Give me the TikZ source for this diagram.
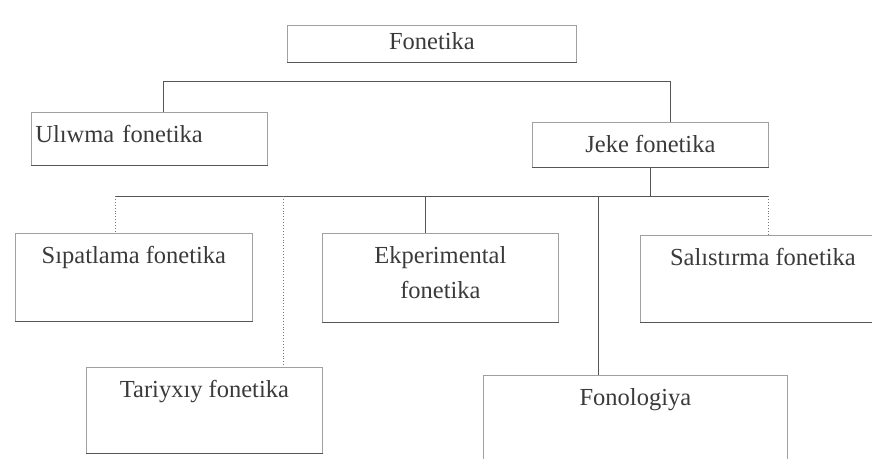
\documentclass[tikz,border=0pt]{standalone}
\usepackage{fontspec}
\setmainfont{Liberation Serif}
\usepackage{tikz}
\usetikzlibrary{positioning,calc}
\definecolor{inkgray}{HTML}{3A3A3A}
\definecolor{linegray}{HTML}{A0A0A0}
\definecolor{bargray}{HTML}{555555}

\begin{document}
\begin{tikzpicture}[x=1pt,y=-1pt,
  box/.style={draw=linegray,line width=0.8pt,anchor=north west,
              inner xsep=4pt,inner ysep=10pt,text height=20pt,
              align=center,text=inkgray,
              font=\fontsize{24.5}{35}\selectfont},
  link/.style={draw=bargray,line width=0.9pt},
  dotlink/.style={draw=bargray!80,line width=0.9pt,dotted}
]
  \useasboundingbox (0,0) rectangle (872,458);
  \clip (0,0) rectangle (872,458);

  \node[box,minimum width=289pt,inner ysep=4pt,text depth=9pt] (fon) at (287,25) {Fonetika};

  \node[box,text width=228pt,align=left,text depth=13pt] (ulw) at (31,112) {Ulıwma fonetika};
  \node[box,minimum width=236pt,text depth=5pt] (jeke) at (532,122) {Jeke fonetika};

  \node[box,minimum width=237pt,text depth=48pt] (sipat) at (15,233) {Sıpatlama fonetika};
  \node[box,minimum width=236pt,text height=55pt,text depth=14pt] (ekper) at (322,233) {Ekperimental\\fonetika};
  \node[box,minimum width=245pt,text depth=47pt] (sal) at (640,235) {Salıstırma fonetika};
  \node[box,minimum width=236pt,text depth=46pt] (tar) at (86,367) {Tariyxıy fonetika};
  \node[box,minimum width=304pt,text depth=60pt] (fonol) at (483,375) {Fonologiya};

  % darker bottom edges
  \foreach \n in {fon,ulw,jeke,sipat,ekper,sal,tar,fonol}
    \draw[link] (\n.south west) -- (\n.south east);

  \coordinate (b1l) at (163,81);
  \coordinate (b1r) at (670,81);
  \coordinate (b2l) at (115,196);
  \coordinate (b2r) at (768,196);
  \coordinate (dtar) at (283,196);
  \coordinate (dexp) at (425,196);
  \coordinate (dfon) at (598,196);

  \draw[link] (ulw.north -| b1l) -- (b1l) -- (b1r) -- (jeke.north -| b1r);
  \draw[link] (jeke.south) -- (jeke.south |- b2l);
  \draw[link] (b2l) -- (b2r);
  \draw[dotlink] (b2l) -- (sipat.north -| b2l);
  \draw[dotlink] (dtar) -- (tar.north -| dtar);
  \draw[link] (dexp) -- (ekper.north -| dexp);
  \draw[link] (dfon) -- (fonol.north -| dfon);
  \draw[dotlink] (b2r) -- (sal.north -| b2r);
\end{tikzpicture}
\end{document}
